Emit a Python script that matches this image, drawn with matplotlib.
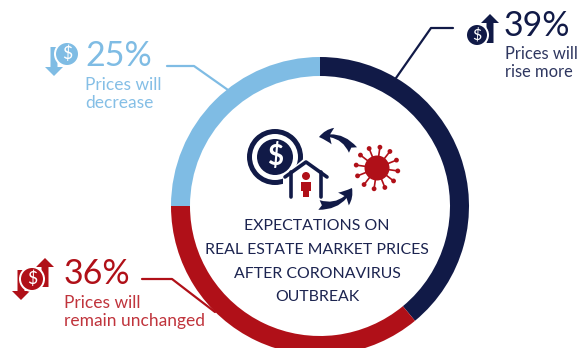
import matplotlib
matplotlib.use("Agg")
import matplotlib.pyplot as plt
from matplotlib.patches import Circle, Polygon, FancyArrowPatch
import numpy as np

categories = ["Prices will\nrise more", "Prices will\nremain unchanged", "Prices will\ndecrease"]
values = [39, 36, 25]
labels = ["39%", "36%", "25%"]
title_lines = ["EXPECTATIONS ON", "REAL ESTATE MARKET PRICES", "AFTER CORONAVIRUS", "OUTBREAK"]
NAVY, RED, BLUE = "#111a47", "#b01018", "#7fbce4"
colors = [NAVY, RED, BLUE]
text_colors = ["#2f3760", "#c0343c", "#85bfe6"]

W, H = 578, 348
fig = plt.figure(figsize=(W/100, H/100), dpi=100)
ax = fig.add_axes([0, 0, 1, 1])
Y = lambda y: H - y

ax.pie(values, colors=colors, startangle=90, counterclock=False,
       center=(320, Y(206)), radius=149, frame=True,
       wedgeprops=dict(width=19, linewidth=0))
ax.set_xlim(0, W); ax.set_ylim(0, H); ax.set_aspect("equal"); ax.axis("off")
plt.rcParams["font.family"] = ["Lato", "DejaVu Sans"]

def poly(pts, c, z=3):
    ax.add_patch(Polygon([(x, Y(y)) for x, y in pts], closed=True, fc=c, ec="none", zorder=z))
def disc(x, y, r, c, z=3):
    ax.add_patch(Circle((x, Y(y)), r, fc=c, ec="none", zorder=z))
def line(xs, ys, c, lw=1.6, z=3):
    ax.plot(xs, [Y(v) for v in ys], color=c, lw=lw, zorder=z, solid_capstyle="round")
def t(x, y, s, c, size, ha="left", weight="normal", z=5):
    ax.text(x, Y(y), s, color=c, fontsize=size, ha=ha, va="center", fontweight=weight, zorder=z)
def up(x, top, bottom, c, hw=9, sw=3.5, hl=9):
    poly([(x, top), (x+hw, top+hl), (x+sw, top+hl), (x+sw, bottom), (x-sw, bottom), (x-sw, top+hl), (x-hw, top+hl)], c)
def down(x, tip, top, c, hw=9, sw=3.5, hl=9):
    poly([(x, tip), (x+hw, tip-hl), (x+sw, tip-hl), (x+sw, top), (x-sw, top), (x-sw, tip-hl), (x-hw, tip-hl)], c)
def coin(x, y, r, c):
    disc(x, y, r+2, "white", 4); disc(x, y, r, c, 4)
    t(x, y, "$", "white", r*1.15, ha="center")

# leaders
line([396, 431, 453], [78, 28, 28], NAVY)
line([167, 194, 228], [66, 66, 90], BLUE)
line([142, 172, 215], [279, 279, 312], RED)

# labels
t(504, 26, labels[0], NAVY, 24.5)
t(85, 56, labels[2], BLUE, 24.5)
t(64, 274, labels[1], RED, 24.5)
for (x, y), s, c, fs in zip([(505, 63), (64, 312), (85, 94)], categories, text_colors, [11.9, 12.5, 12.5]):
    ax.text(x, Y(y), s, color=c, fontsize=fs, ha="left", va="center", linespacing=1.08, zorder=5)

# legend icons
up(490, 14, 43, NAVY); coin(477, 35, 10, NAVY)
down(54, 76, 47, BLUE); coin(67, 54, 11, BLUE)
up(45, 258, 287, RED); down(21, 300, 270, RED); coin(32, 279, 11, RED)

# center icon: coin
disc(275, 157, 28, NAVY); disc(275, 157, 23, "white"); disc(275, 157, 18, NAVY)
t(275, 157, "$", "white", 20, ha="center", weight="bold")
# house
poly([(283, 176), (306, 157), (329, 176), (329, 200), (283, 200)], "white", 4)
line([285, 306, 327], [177, 162, 177], NAVY, 2.6, 5)
line([291, 291], [172, 197], NAVY, 2.6, 5)
line([321, 321], [172, 197], NAVY, 2.6, 5)
disc(306, 176, 4, RED, 5)
poly([(301, 182), (311, 182), (311, 191), (309, 191), (309, 197), (303, 197), (303, 191), (301, 191)], RED, 5)
# virus
for a in np.deg2rad(np.arange(0, 360, 30) + 8):
    line([377, 377 + 21*np.cos(a)], [168, 168 + 21*np.sin(a)], RED, 1.2)
    disc(377 + 21*np.cos(a), 168 + 21*np.sin(a), 2.4, RED)
disc(377, 168, 12.5, RED)
# cycle arrows
ax.add_patch(FancyArrowPatch((353, Y(150)), (319, Y(137)), connectionstyle="arc3,rad=0.35",
             arrowstyle="fancy,tail_width=7,head_width=12,head_length=10", mutation_scale=1, fc=NAVY, ec="none", zorder=5, shrinkA=0, shrinkB=0))
ax.add_patch(FancyArrowPatch((319, Y(205)), (352, Y(188)), connectionstyle="arc3,rad=0.35",
             arrowstyle="fancy,tail_width=7,head_width=12,head_length=10", mutation_scale=1, fc=NAVY, ec="none", zorder=5, shrinkA=0, shrinkB=0))

# central title
for y, s in zip([226, 250, 274, 297], title_lines):
    t(317, y, s, "#1c2450", 11.4, ha="center")

fig.savefig("out.png", dpi=100)
